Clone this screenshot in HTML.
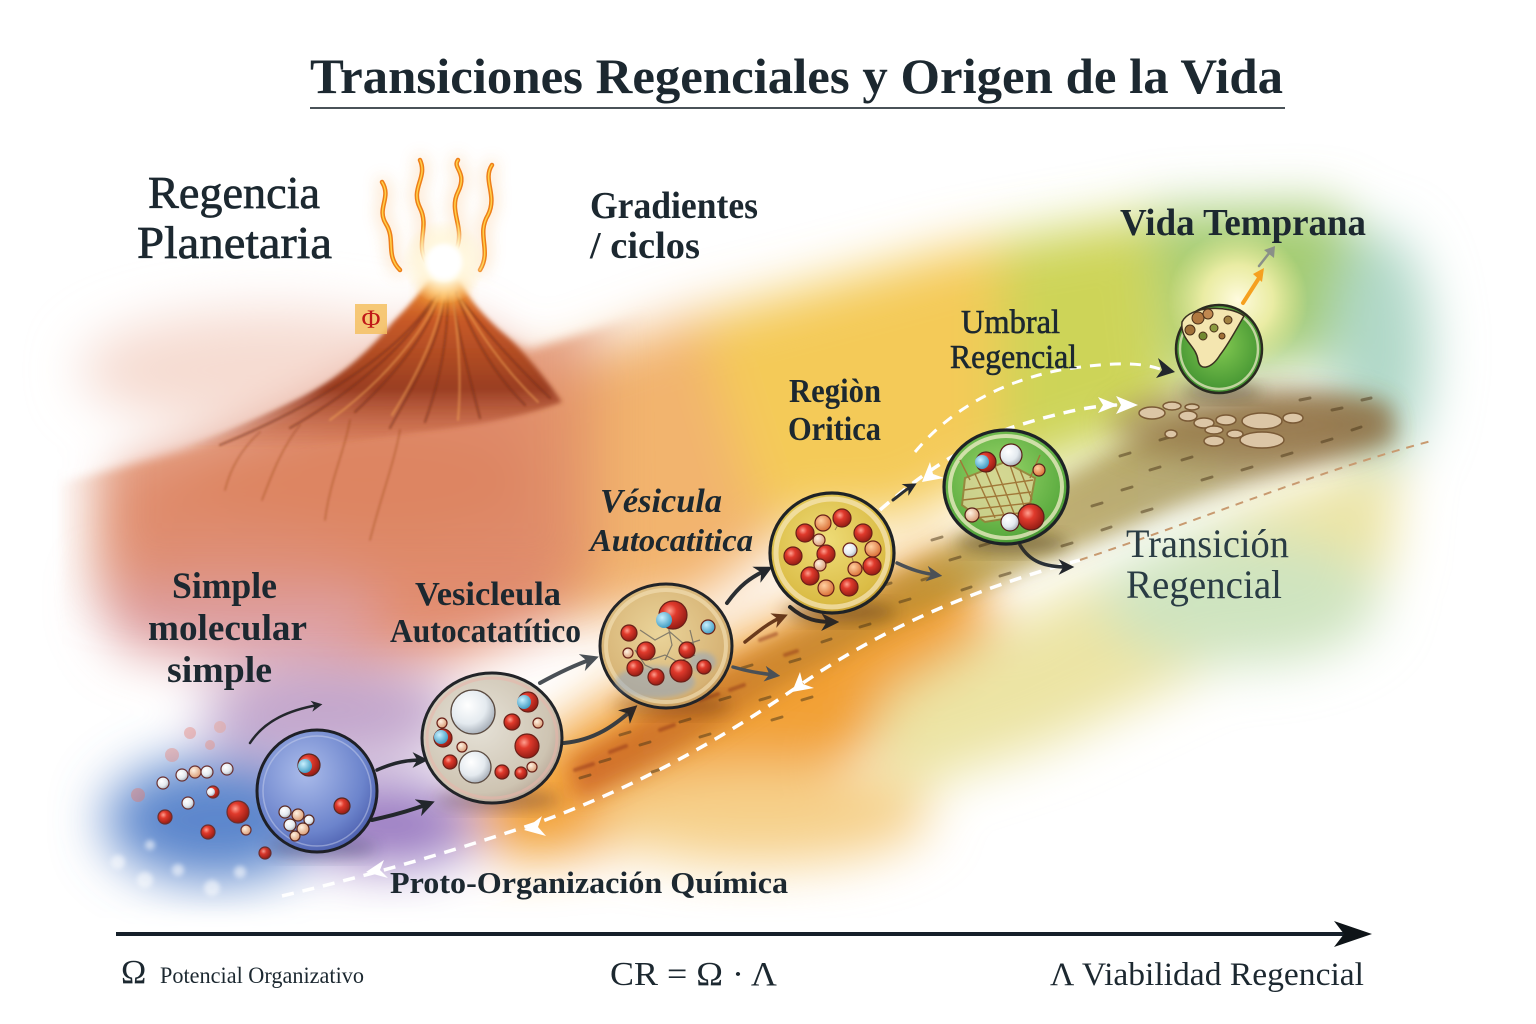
<!DOCTYPE html>
<html><head><meta charset="utf-8">
<style>
html,body{margin:0;padding:0;background:#fff;}
svg{display:block;}
text{font-family:"Liberation Serif",serif;fill:#1c2830;}
</style></head><body>
<svg width="1536" height="1024" viewBox="0 0 1536 1024" xmlns="http://www.w3.org/2000/svg">
<defs>
<filter id="b35" x="-40%" y="-40%" width="180%" height="180%"><feGaussianBlur stdDeviation="26"/></filter>
<filter id="b25" x="-40%" y="-40%" width="180%" height="180%"><feGaussianBlur stdDeviation="28"/></filter>
<filter id="b18" x="-40%" y="-40%" width="180%" height="180%"><feGaussianBlur stdDeviation="16"/></filter>
<filter id="b12" x="-40%" y="-40%" width="180%" height="180%"><feGaussianBlur stdDeviation="11"/></filter>
<filter id="b8" x="-40%" y="-40%" width="180%" height="180%"><feGaussianBlur stdDeviation="8"/></filter>
<filter id="b5" x="-20%" y="-20%" width="140%" height="140%"><feGaussianBlur stdDeviation="5"/></filter>
<filter id="b3" x="-20%" y="-20%" width="140%" height="140%"><feGaussianBlur stdDeviation="2.5"/></filter>
<filter id="b1" x="-20%" y="-20%" width="140%" height="140%"><feGaussianBlur stdDeviation="1"/></filter>
<mask id="mGround" maskUnits="userSpaceOnUse" x="0" y="0" width="1536" height="1024">
<rect x="95" y="200" width="500" height="390" fill="#fff" filter="url(#b25)"/>
</mask>
<radialGradient id="gRed" cx=".38" cy=".35" r=".7"><stop offset="0" stop-color="#ffa090"/><stop offset=".35" stop-color="#e03a2c"/><stop offset="1" stop-color="#8e1a12"/></radialGradient>
<radialGradient id="gWhite" cx=".38" cy=".35" r=".7"><stop offset="0" stop-color="#ffffff"/><stop offset=".6" stop-color="#e4eaef"/><stop offset="1" stop-color="#a2aab4"/></radialGradient>
<radialGradient id="gCyan" cx=".38" cy=".35" r=".7"><stop offset="0" stop-color="#c8f0ff"/><stop offset="1" stop-color="#3a98c0"/></radialGradient>
<radialGradient id="gTan" cx=".38" cy=".35" r=".7"><stop offset="0" stop-color="#fff2e2"/><stop offset="1" stop-color="#d89870"/></radialGradient>
<radialGradient id="gOr" cx=".38" cy=".35" r=".7"><stop offset="0" stop-color="#ffd0a0"/><stop offset="1" stop-color="#d86a30"/></radialGradient>
<radialGradient id="gV1" cx=".4" cy=".35" r=".7"><stop offset="0" stop-color="#aabbea"/><stop offset=".7" stop-color="#6c84cc"/><stop offset="1" stop-color="#4a5cac"/></radialGradient>
<radialGradient id="gV2" cx=".4" cy=".4" r=".65"><stop offset="0" stop-color="#e6e2d8"/><stop offset=".8" stop-color="#cec4b2"/><stop offset="1" stop-color="#b8a696"/></radialGradient>
<radialGradient id="gV3" cx=".45" cy=".4" r=".65"><stop offset="0" stop-color="#ead49a"/><stop offset=".8" stop-color="#d6b274"/><stop offset="1" stop-color="#c09050"/></radialGradient>
<radialGradient id="gV4" cx=".45" cy=".4" r=".65"><stop offset="0" stop-color="#eedc78"/><stop offset=".8" stop-color="#dabb44"/><stop offset="1" stop-color="#b88e28"/></radialGradient>
<radialGradient id="gV5" cx=".45" cy=".4" r=".65"><stop offset="0" stop-color="#9ad66a"/><stop offset=".8" stop-color="#5cac40"/><stop offset="1" stop-color="#3a882c"/></radialGradient>
<radialGradient id="gV6" cx=".5" cy=".45" r=".6"><stop offset="0" stop-color="#84ca52"/><stop offset="1" stop-color="#3c8e2e"/></radialGradient>
<radialGradient id="gGlow" cx=".5" cy=".5" r=".5"><stop offset="0" stop-color="#ffffff"/><stop offset=".45" stop-color="#fff8e0"/><stop offset="1" stop-color="#fff0c0" stop-opacity="0"/></radialGradient>
<radialGradient id="gYGlow" cx=".5" cy=".5" r=".5"><stop offset="0" stop-color="#fffbe0"/><stop offset=".5" stop-color="#fbf4b0" stop-opacity=".8"/><stop offset="1" stop-color="#f8f0a0" stop-opacity="0"/></radialGradient>
<linearGradient id="gBand" x1="560" y1="0" x2="1400" y2="0" gradientUnits="userSpaceOnUse">
<stop offset="0" stop-color="#c4501a"/><stop offset=".25" stop-color="#c07a28"/><stop offset=".5" stop-color="#a88c2c"/><stop offset=".75" stop-color="#948236"/><stop offset="1" stop-color="#8a663a"/></linearGradient>
<linearGradient id="gVol" x1="0" y1="275" x2="0" y2="450" gradientUnits="userSpaceOnUse">
<stop offset="0" stop-color="#f39434"/><stop offset=".25" stop-color="#c85a26"/><stop offset=".65" stop-color="#9a3e22"/><stop offset="1" stop-color="#b8502e" stop-opacity="0"/></linearGradient>
<marker id="ahD" viewBox="0 0 10 10" refX="6" refY="5" markerWidth="4.5" markerHeight="4.5" orient="auto"><path d="M0,0 L10,5 L0,10 L3,5 Z" fill="#23272c"/></marker>
<marker id="ahG" viewBox="0 0 10 10" refX="6" refY="5" markerWidth="4.5" markerHeight="4.5" orient="auto"><path d="M0,0 L10,5 L0,10 L3,5 Z" fill="#4a5056"/></marker>
<marker id="ahB" viewBox="0 0 10 10" refX="6" refY="5" markerWidth="4.5" markerHeight="4.5" orient="auto"><path d="M0,0 L10,5 L0,10 L3,5 Z" fill="#6a3a1c"/></marker>
</defs>

<rect width="1536" height="1024" fill="#ffffff"/>

<!-- painted background -->
<g filter="url(#b35)">
  <ellipse cx="270" cy="370" rx="190" ry="60" fill="#f6dcd2"/>
  <path d="M120,470 L250,440 L400,360 L445,320 L515,360 L600,430 L610,600 L450,660 L300,660 L120,650 Z" fill="#e28e72"/>
  <ellipse cx="360" cy="480" rx="180" ry="55" fill="#d9784e"/>
  <ellipse cx="240" cy="600" rx="140" ry="65" fill="#dea0a4"/>
  <ellipse cx="330" cy="715" rx="130" ry="50" fill="#c2a6cc"/>
  <ellipse cx="215" cy="820" rx="110" ry="62" fill="#5c86cc"/>
  <ellipse cx="390" cy="825" rx="90" ry="42" fill="#9878c0"/>
  <path d="M530,375 L680,320 L800,290 L830,500 L700,600 L570,620 Z" fill="#f2b46e"/>
  <path d="M700,325 L800,290 L950,250 L1050,232 L1050,450 L900,520 L760,520 Z" fill="#f4ca58"/>
  <path d="M1000,240 L1150,215 L1180,420 L1000,480 Z" fill="#cdd458"/>
  <path d="M1150,210 L1330,205 L1390,260 L1380,350 L1180,380 Z" fill="#a4cc72"/>
  <ellipse cx="1380" cy="350" rx="50" ry="120" fill="#b0d8c8"/>
  <path d="M470,790 L620,690 L800,610 L950,545 L1000,620 L880,740 L700,840 L500,860 Z" fill="#f2a034"/>
  <path d="M880,700 L1050,600 L1250,505 L1400,455 L1390,570 L1250,650 L1050,745 L880,800 Z" fill="#ece4a4"/>
  <ellipse cx="1240" cy="600" rx="140" ry="65" fill="#cfe4c0"/>
  <ellipse cx="760" cy="815" rx="170" ry="50" fill="#f6d08a"/>
</g>

<!-- hill ground left (masked soft edges) -->
<g mask="url(#mGround)">
<g filter="url(#b5)" opacity=".75">
<path d="M60,482 C180,455 260,430 320,402 C370,378 410,330 440,290 C470,315 500,340 530,350 C560,340 600,330 650,310 L660,700 L60,700 Z" fill="#de8a68"/>
</g>
</g>

<!-- dark ground band -->
<g filter="url(#b12)" opacity=".68">
  <path d="M570,760 C650,715 720,665 790,632 C870,590 960,535 1050,485 C1120,445 1180,410 1260,398 C1320,392 1360,396 1390,404 L1395,440 C1330,458 1250,480 1170,510 C1090,545 1000,580 900,625 C820,665 760,700 700,740 C650,770 610,790 575,800 Z" fill="url(#gBand)"/>
</g>
<ellipse cx="1250" cy="425" rx="140" ry="36" fill="#8a663a" opacity=".6" filter="url(#b18)"/>

<!-- speckles -->
<g stroke="#4a3618" stroke-width="3" stroke-linecap="round" opacity=".5">
<path d="M600,762 l10,-3 M640,745 l10,-3 M680,722 l10,-3 M720,700 l10,-3 M652,772 l9,-3 M700,737 l10,-3 M760,700 l10,-3 M742,668 l10,-3 M790,662 l10,-3 M822,642 l9,-3 M860,627 l10,-3 M900,602 l10,-3 M882,586 l9,-3 M922,580 l10,-3 M950,560 l10,-3 M980,546 l10,-3 M1012,532 l10,-3 M1042,520 l10,-3 M962,590 l9,-3 M1000,576 l10,-3 M1062,546 l10,-3 M1092,506 l10,-3 M1122,490 l10,-3 M1150,470 l10,-3 M1182,460 l10,-3 M1102,530 l9,-3 M1142,512 l10,-3 M1202,480 l10,-3 M1242,470 l10,-3 M1282,456 l10,-3 M1322,442 l10,-3 M1352,430 l9,-3 M1300,400 l10,-2 M1332,410 l10,-2 M1362,400 l9,-2 M1160,440 l10,-3 M1120,456 l10,-3 M932,540 l10,-3 M850,600 l10,-3 M802,700 l10,-3 M772,720 l10,-3 M620,735 l10,-3 M580,778 l10,-3"/>
</g>
<g stroke="#8a2e14" stroke-width="4" stroke-linecap="round" opacity=".45" filter="url(#b1)">
<path d="M575,770 l18,-6 M610,752 l16,-6 M700,700 l18,-6 M730,690 l14,-5 M660,730 l14,-5 M760,640 l16,-6 M785,655 l12,-4"/>
</g>

<!-- pebbles -->
<g stroke="#7a5a36" stroke-width="1.5" fill="#dcc6a6">
<ellipse cx="1152" cy="413" rx="13" ry="6"/><ellipse cx="1172" cy="406" rx="9" ry="4"/><ellipse cx="1188" cy="416" rx="9" ry="5"/>
<ellipse cx="1204" cy="423" rx="10" ry="5"/><ellipse cx="1226" cy="420" rx="10" ry="5"/><ellipse cx="1214" cy="430" rx="9" ry="4"/>
<ellipse cx="1262" cy="421" rx="20" ry="8"/><ellipse cx="1293" cy="418" rx="10" ry="5"/><ellipse cx="1262" cy="440" rx="22" ry="8"/>
<ellipse cx="1214" cy="441" rx="10" ry="5"/><ellipse cx="1235" cy="434" rx="8" ry="4"/><ellipse cx="1171" cy="434" rx="6" ry="4"/><ellipse cx="1192" cy="407" rx="7" ry="3"/>
</g>

<!-- white fades -->
<rect x="0" y="918" width="1536" height="120" fill="#fff" filter="url(#b8)"/>
<g fill="#fff" opacity=".55" filter="url(#b3)">
<circle cx="118" cy="862" r="7"/><circle cx="145" cy="880" r="8"/><circle cx="178" cy="870" r="6"/><circle cx="212" cy="888" r="8"/><circle cx="240" cy="872" r="6"/><circle cx="150" cy="845" r="5"/>
</g>

<!-- volcano -->
<g filter="url(#b3)">
<path d="M430,280 L458,280 C470,300 485,318 505,335 C525,352 545,378 562,402 C520,418 470,426 420,432 C360,440 300,448 230,456 C200,458 175,458 160,455 C210,440 255,420 300,398 C340,378 370,350 393,322 C410,305 420,292 430,280 Z" fill="url(#gVol)"/>
</g>
<g fill="none" stroke-linecap="round" filter="url(#b1)">
<g stroke="#6e2812" stroke-width="2" opacity=".55">
<path d="M440,292 C430,330 400,370 355,412"/><path d="M448,292 C448,340 440,380 425,422"/><path d="M456,292 C470,330 490,370 525,405"/>
<path d="M436,296 C415,335 365,385 290,428"/><path d="M452,296 C460,340 470,380 480,418"/><path d="M432,300 C405,345 330,400 220,445"/>
<path d="M460,298 C485,330 510,360 550,398"/><path d="M444,300 C438,350 410,390 390,428"/>
</g>
<g stroke="#f5a856" stroke-width="1.8" opacity=".6">
<path d="M444,292 C438,330 420,370 392,415"/><path d="M452,292 C458,335 462,375 458,420"/><path d="M458,295 C478,330 500,365 538,402"/><path d="M438,298 C420,335 385,380 330,420"/>
</g>
<g stroke="#8a3a1c" stroke-width="1.5" opacity=".4">
<path d="M300,425 C280,450 270,480 262,500"/><path d="M350,420 C345,450 330,480 325,520"/><path d="M260,432 C240,450 230,470 225,490"/><path d="M400,430 C395,460 380,500 370,540"/>
</g>
</g>
<ellipse cx="444" cy="290" rx="20" ry="14" fill="#ffb040" filter="url(#b8)"/>
<!-- flames -->
<g fill="none" stroke-linecap="round">
<g stroke="#f5a040" stroke-width="9" opacity=".35" filter="url(#b8)">
<path d="M400,270 C385,255 396,240 386,224 C376,208 392,198 382,182"/>
<path d="M428,265 C414,245 430,228 420,208 C410,188 428,178 420,160"/>
<path d="M456,250 C466,228 448,212 458,192 C468,172 452,168 458,160"/>
<path d="M480,270 C492,250 476,235 488,215 C498,195 482,180 492,165"/>
</g>
<g stroke="#ee7e18" stroke-width="4.5">
<path d="M400,270 C385,255 396,240 386,224 C376,208 392,198 382,182"/>
<path d="M428,265 C414,245 430,228 420,208 C410,188 428,178 420,160"/>
<path d="M456,250 C466,228 448,212 458,192 C468,172 452,168 458,160"/>
<path d="M480,270 C492,250 476,235 488,215 C498,195 482,180 492,165"/>
</g>
<g stroke="#ffd048" stroke-width="1.5">
<path d="M400,270 C385,255 396,240 386,224 C376,208 392,198 382,182"/>
<path d="M428,265 C414,245 430,228 420,208 C410,188 428,178 420,160"/>
<path d="M456,250 C466,228 448,212 458,192 C468,172 452,168 458,160"/>
<path d="M480,270 C492,250 476,235 488,215 C498,195 482,180 492,165"/>
</g>
</g>
<circle cx="444" cy="262" r="42" fill="url(#gGlow)"/>
<circle cx="444" cy="262" r="18" fill="#ffffff" filter="url(#b3)"/>
<rect x="355" y="304" width="32" height="30" fill="#f4c060" opacity=".85"/>
<text x="371" y="328" font-size="26" text-anchor="middle" style="fill:#c01818">Φ</text>

<!-- dashed paths -->
<g fill="none" stroke-linecap="butt">
<path d="M282,896 C400,868 470,845 540,822 C640,785 720,740 800,685 C880,630 970,590 1080,560" stroke="#fff" stroke-width="3.5" stroke-dasharray="12 9"/>
<path d="M1080,560 C1200,520 1320,470 1435,440" stroke="#c89a70" stroke-width="2" stroke-dasharray="8 7"/>
<path d="M880,510 C920,475 960,448 1010,428 C1060,412 1095,405 1120,405" stroke="#fff" stroke-width="3.5" stroke-dasharray="12 9"/>
<path d="M915,452 C950,410 1000,382 1060,370 C1110,362 1140,362 1160,369" stroke="#fff" stroke-width="3" stroke-dasharray="11 9"/>
</g>
<g fill="#fff">
<path d="M366,872 L384,860 L380,870 L388,878 Z"/>
<path d="M524,830 L542,816 L538,827 L546,836 Z"/>
<path d="M792,692 L800,672 L803,684 L814,688 Z"/>
<path d="M922,482 L930,462 L933,474 L944,478 Z"/>
<path d="M1138,405 L1116,396 L1121,405 L1116,414 Z"/>
<path d="M1118,405 L1098,397 L1103,405 L1098,413 Z"/>
</g>
<path d="M1175,372 L1158,358 L1162,370 L1156,378 Z" fill="#23272c"/>

<!-- arrows -->
<g fill="none" stroke-linecap="round">
<path d="M250,743 C265,720 290,710 318,705" stroke="#23272c" stroke-width="2.5" marker-end="url(#ahD)"/>
<path d="M377,770 C395,762 408,760 422,760" stroke="#23272c" stroke-width="3.5" marker-end="url(#ahD)"/>
<path d="M372,820 C395,815 412,810 428,804" stroke="#23272c" stroke-width="4" marker-end="url(#ahD)"/>
<path d="M540,683 C560,672 575,665 592,659" stroke="#4a5056" stroke-width="4" marker-end="url(#ahG)"/>
<path d="M564,743 C595,740 615,725 632,710" stroke="#3a3e42" stroke-width="4" marker-end="url(#ahD)"/>
<path d="M727,603 C740,585 750,578 766,570" stroke="#2a2e32" stroke-width="4" marker-end="url(#ahD)"/>
<path d="M733,667 C750,672 760,673 774,675" stroke="#4a5056" stroke-width="3.5" marker-end="url(#ahG)"/>
<path d="M745,642 C760,630 770,622 782,617" stroke="#6a3a1c" stroke-width="3.5" marker-end="url(#ahB)"/>
<path d="M893,500 C900,495 905,490 912,486" stroke="#2a2e32" stroke-width="3" marker-end="url(#ahD)"/>
<path d="M897,563 C912,570 922,573 936,575" stroke="#4a5056" stroke-width="3.5" marker-end="url(#ahG)"/>
<path d="M790,607 C805,620 818,622 832,622" stroke="#23272c" stroke-width="4" marker-end="url(#ahD)"/>
<path d="M1020,545 C1030,562 1045,567 1068,567" stroke="#2a3036" stroke-width="3.5" marker-end="url(#ahD)"/>
</g>

<!-- free molecules -->
<g opacity=".45"><circle cx="138" cy="795" r="7" fill="#e07a70"/><circle cx="172" cy="755" r="7" fill="#e88a80"/><circle cx="190" cy="733" r="6" fill="#e88a80"/><circle cx="220" cy="727" r="6" fill="#e8a090"/><circle cx="210" cy="745" r="5" fill="#e89080"/></g>
<g stroke="#6a3030" stroke-width="1.2">
<circle cx="163" cy="783" r="6" fill="url(#gWhite)"/><circle cx="182" cy="775" r="6" fill="url(#gWhite)"/><circle cx="195" cy="772" r="6" fill="url(#gTan)"/>
<circle cx="207" cy="772" r="6" fill="url(#gWhite)"/><circle cx="227" cy="769" r="6" fill="url(#gWhite)"/><circle cx="188" cy="803" r="6" fill="url(#gWhite)"/>
<circle cx="213" cy="792" r="6" fill="url(#gRed)"/><circle cx="211" cy="792" r="4" fill="url(#gWhite)" stroke="none"/>
<circle cx="238" cy="812" r="11" fill="url(#gRed)"/><circle cx="165" cy="817" r="7" fill="url(#gRed)"/><circle cx="208" cy="832" r="7" fill="url(#gRed)"/>
<circle cx="265" cy="853" r="6" fill="url(#gRed)"/><circle cx="246" cy="830" r="5" fill="url(#gTan)"/>
</g>

<!-- V1 -->
<ellipse cx="322" cy="848" rx="55" ry="10" fill="#1a2050" opacity=".35" filter="url(#b8)"/>
<ellipse cx="317" cy="791" rx="60" ry="61" fill="url(#gV1)" stroke="#1e2026" stroke-width="3"/>
<ellipse cx="317" cy="791" rx="54" ry="55" fill="none" stroke="#d0d8f0" stroke-width="1.5" opacity=".45"/>
<g stroke="#5a2820" stroke-width="1.2">
<circle cx="309" cy="765" r="11" fill="url(#gRed)"/><circle cx="305" cy="766" r="7" fill="url(#gCyan)" stroke="none"/>
<circle cx="342" cy="806" r="8" fill="url(#gRed)"/>
<circle cx="285" cy="812" r="6" fill="url(#gWhite)"/><circle cx="298" cy="815" r="6" fill="url(#gTan)"/><circle cx="309" cy="820" r="5" fill="url(#gWhite)"/>
<circle cx="290" cy="825" r="6" fill="url(#gWhite)"/><circle cx="303" cy="829" r="6" fill="url(#gTan)"/><circle cx="295" cy="836" r="5" fill="url(#gTan)"/>
</g>

<!-- V2 -->
<ellipse cx="498" cy="800" rx="62" ry="10" fill="#3a2040" opacity=".35" filter="url(#b8)"/>
<ellipse cx="492" cy="738" rx="70" ry="65" fill="url(#gV2)" stroke="#222428" stroke-width="3"/>
<ellipse cx="492" cy="738" rx="65" ry="60" fill="none" stroke="#eab4aa" stroke-width="3" opacity=".55"/>
<g stroke="#5a4a40" stroke-width="1.3">
<circle cx="473" cy="712" r="22" fill="url(#gWhite)"/><circle cx="475" cy="767" r="16" fill="url(#gWhite)"/>
</g>
<g stroke="#6a2018" stroke-width="1.2">
<circle cx="512" cy="722" r="8" fill="url(#gRed)"/><circle cx="527" cy="746" r="12" fill="url(#gRed)"/><circle cx="450" cy="762" r="7" fill="url(#gRed)"/>
<circle cx="502" cy="772" r="7" fill="url(#gRed)"/><circle cx="521" cy="773" r="6" fill="url(#gRed)"/>
<circle cx="528" cy="702" r="10" fill="url(#gRed)"/><circle cx="524" cy="702" r="7" fill="url(#gCyan)" stroke="none"/>
<circle cx="443" cy="738" r="9" fill="url(#gRed)"/><circle cx="441" cy="737" r="7" fill="url(#gCyan)" stroke="none"/>
<circle cx="442" cy="723" r="5" fill="url(#gTan)"/><circle cx="462" cy="747" r="5" fill="url(#gTan)"/><circle cx="538" cy="723" r="5" fill="url(#gTan)"/><circle cx="532" cy="767" r="5" fill="url(#gTan)"/>
</g>

<!-- V3 -->
<ellipse cx="672" cy="705" rx="58" ry="10" fill="#5a2a10" opacity=".4" filter="url(#b8)"/>
<ellipse cx="666" cy="646" rx="66" ry="62" fill="url(#gV3)" stroke="#222428" stroke-width="3"/>
<ellipse cx="666" cy="646" rx="60" ry="56" fill="none" stroke="#f2deb4" stroke-width="4" opacity=".65"/>
<ellipse cx="655" cy="682" rx="40" ry="16" fill="#8aa4c8" opacity=".5" filter="url(#b3)"/>
<ellipse cx="702" cy="662" rx="14" ry="10" fill="#8aa4c8" opacity=".5" filter="url(#b3)"/>
<g fill="none" stroke="#5a5a5a" stroke-width="1.2" opacity=".7">
<path d="M640,630 L655,640 L670,632 L685,645 L700,640 M650,660 L665,655 L678,662 L695,655 M635,650 L645,665 L660,672 M668,625 L672,645 L665,660 M690,630 L695,650"/>
</g>
<g stroke="#6a2018" stroke-width="1.2">
<circle cx="673" cy="615" r="14" fill="url(#gRed)"/><circle cx="664" cy="620" r="8" fill="url(#gCyan)" stroke="none"/>
<circle cx="629" cy="633" r="8" fill="url(#gRed)"/><circle cx="646" cy="651" r="9" fill="url(#gRed)"/><circle cx="687" cy="650" r="8" fill="url(#gRed)"/>
<circle cx="635" cy="668" r="8" fill="url(#gRed)"/><circle cx="656" cy="677" r="8" fill="url(#gRed)"/><circle cx="681" cy="671" r="11" fill="url(#gRed)"/>
<circle cx="704" cy="667" r="7" fill="url(#gRed)"/><circle cx="708" cy="627" r="7" fill="url(#gCyan)"/><circle cx="628" cy="653" r="5" fill="url(#gTan)"/>
</g>

<!-- V4 -->
<ellipse cx="840" cy="612" rx="56" ry="10" fill="#4a2a08" opacity=".45" filter="url(#b8)"/>
<ellipse cx="832" cy="553" rx="62" ry="60" fill="url(#gV4)" stroke="#1e2226" stroke-width="3.2"/>
<ellipse cx="832" cy="553" rx="56" ry="54" fill="none" stroke="#f6e4b4" stroke-width="5" opacity=".75"/>
<g fill="none" stroke="#6a5030" stroke-width="1" opacity=".6"><path d="M819,540 L826,554 L820,565 M850,550 L855,568 M835,530 L842,518"/></g>
<g stroke="#6a2018" stroke-width="1.2">
<circle cx="842" cy="518" r="9" fill="url(#gRed)"/><circle cx="823" cy="523" r="8" fill="url(#gOr)"/><circle cx="805" cy="533" r="9" fill="url(#gRed)"/>
<circle cx="863" cy="533" r="9" fill="url(#gRed)"/><circle cx="793" cy="556" r="9" fill="url(#gRed)"/><circle cx="826" cy="554" r="9" fill="url(#gRed)"/>
<circle cx="873" cy="549" r="8" fill="url(#gOr)"/><circle cx="872" cy="566" r="9" fill="url(#gRed)"/><circle cx="810" cy="576" r="9" fill="url(#gRed)"/>
<circle cx="849" cy="587" r="9" fill="url(#gRed)"/><circle cx="826" cy="588" r="8" fill="url(#gOr)"/><circle cx="819" cy="540" r="6" fill="url(#gTan)"/>
<circle cx="850" cy="550" r="7" fill="url(#gWhite)"/><circle cx="855" cy="569" r="7" fill="url(#gOr)"/><circle cx="820" cy="565" r="6" fill="url(#gTan)"/>
</g>

<!-- V5 -->
<ellipse cx="1012" cy="543" rx="56" ry="10" fill="#3a2a08" opacity=".45" filter="url(#b8)"/>
<ellipse cx="1006" cy="487" rx="62" ry="57" fill="url(#gV5)" stroke="#1e2226" stroke-width="3.2"/>
<ellipse cx="1006" cy="487" rx="56" ry="51" fill="none" stroke="#f2eec8" stroke-width="4" opacity=".75"/>
<path d="M965,478 L1005,462 L1035,478 L1028,515 L985,522 L962,505 Z" fill="#e8d8a0" opacity=".75" stroke="#a07838" stroke-width="2"/>
<g stroke="#a07838" stroke-width="1.4" fill="none">
<path d="M975,474 L995,518 M985,470 L1006,520 M995,466 L1016,518 M1010,465 L1026,512 M1020,470 L1032,500"/>
<path d="M964,490 L1033,480 M963,500 L1031,492 M968,510 L1030,503 M975,518 L1028,512"/>
<path d="M1030,478 L1040,455 M970,480 L960,460"/>
</g>
<g stroke="#5a2018" stroke-width="1.2">
<circle cx="1031" cy="517" r="13" fill="url(#gRed)"/><circle cx="1010" cy="522" r="9" fill="url(#gWhite)"/>
<circle cx="986" cy="462" r="10" fill="url(#gRed)"/><circle cx="982" cy="462" r="7" fill="url(#gCyan)" stroke="none"/>
<circle cx="1011" cy="455" r="11" fill="url(#gWhite)"/><circle cx="1039" cy="470" r="6" fill="url(#gOr)"/>
<circle cx="972" cy="515" r="7" fill="url(#gTan)"/>
</g>

<!-- V6 -->
<circle cx="1238" cy="300" r="70" fill="url(#gYGlow)"/>
<ellipse cx="1222" cy="392" rx="40" ry="8" fill="#3a2a08" opacity=".45" filter="url(#b8)"/>
<ellipse cx="1219" cy="349" rx="43" ry="44" fill="url(#gV6)" stroke="#2a2a20" stroke-width="2.5"/>
<ellipse cx="1219" cy="349" rx="39" ry="40" fill="none" stroke="#f4eccc" stroke-width="2.5" opacity=".7"/>
<path d="M1182,322 C1190,305 1230,305 1244,316 C1236,330 1228,345 1220,355 C1212,368 1200,372 1198,360 C1196,345 1180,340 1182,322 Z" fill="#f4e6b0" stroke="#3a3020" stroke-width="1.5"/>
<g stroke="#4a3018" stroke-width="1">
<circle cx="1198" cy="318" r="6" fill="#b07840"/><circle cx="1208" cy="314" r="5" fill="#c08850"/><circle cx="1190" cy="330" r="5" fill="#a07038"/>
<circle cx="1214" cy="328" r="4" fill="#8a9a40"/><circle cx="1228" cy="320" r="4" fill="#a08040"/><circle cx="1203" cy="336" r="4" fill="#708830"/><circle cx="1222" cy="336" r="3" fill="#a07038"/>
</g>
<path d="M1243,303 L1259,278" stroke="#f5a020" stroke-width="4" stroke-linecap="round"/>
<path d="M1253,274 L1264,268 L1262,282 Z" fill="#f5a020"/>
<path d="M1259,266 L1270,252" stroke="#8a9088" stroke-width="2.5" stroke-linecap="round"/>
<path d="M1264,250 L1275,246 L1274,258 Z" fill="#8a9088"/>

<!-- Title -->
<text x="310" y="93" font-size="50" font-weight="bold" textLength="973" lengthAdjust="spacingAndGlyphs">Transiciones Regenciales y Origen de la Vida</text>
<line x1="310" y1="108" x2="1285" y2="108" stroke="#4a5258" stroke-width="2"/>

<!-- Labels -->
<g stroke="#1c2830" stroke-width="0.7">
<text x="148" y="208" font-size="46" textLength="172" lengthAdjust="spacingAndGlyphs">Regencia</text>
<text x="137" y="258" font-size="46" textLength="195" lengthAdjust="spacingAndGlyphs">Planetaria</text>
</g>
<g font-weight="bold">
<text x="590" y="218" font-size="38" textLength="168" lengthAdjust="spacingAndGlyphs">Gradientes</text>
<text x="590" y="258" font-size="38" textLength="110" lengthAdjust="spacingAndGlyphs">/ ciclos</text>
<text x="1120" y="235" font-size="38" textLength="246" lengthAdjust="spacingAndGlyphs">Vida Temprana</text>
<text x="789" y="402" font-size="34" textLength="92" lengthAdjust="spacingAndGlyphs">Regiòn</text>
<text x="788" y="440" font-size="34" textLength="93" lengthAdjust="spacingAndGlyphs">Oritica</text>
<text x="600" y="512" font-size="34" font-style="italic" textLength="122" lengthAdjust="spacingAndGlyphs">Vésicula</text>
<text x="590" y="551" font-size="32" font-style="italic" textLength="163" lengthAdjust="spacingAndGlyphs">Autocatitica</text>
<text x="172" y="598" font-size="37" textLength="105" lengthAdjust="spacingAndGlyphs">Simple</text>
<text x="148" y="640" font-size="37" textLength="159" lengthAdjust="spacingAndGlyphs">molecular</text>
<text x="167" y="682" font-size="37" textLength="105" lengthAdjust="spacingAndGlyphs">simple</text>
<text x="415" y="605" font-size="34" textLength="146" lengthAdjust="spacingAndGlyphs">Vesicleula</text>
<text x="390" y="642" font-size="34" textLength="191" lengthAdjust="spacingAndGlyphs">Autocatatítico</text>
<text x="390" y="893" font-size="31" textLength="398" lengthAdjust="spacingAndGlyphs">Proto-Organización Química</text>
</g>
<g stroke="#1c2830" stroke-width="0.6">
<text x="961" y="333" font-size="34" textLength="99" lengthAdjust="spacingAndGlyphs">Umbral</text>
<text x="950" y="368" font-size="34" textLength="127" lengthAdjust="spacingAndGlyphs">Regencial</text>
</g>
<text x="1126" y="557" font-size="40" textLength="163" lengthAdjust="spacingAndGlyphs" style="fill:#2a3c44">Transición</text>
<text x="1126" y="598" font-size="40" textLength="156" lengthAdjust="spacingAndGlyphs" style="fill:#2a3c44">Regencial</text>

<!-- Axis -->
<line x1="116" y1="934" x2="1350" y2="934" stroke="#16202a" stroke-width="4"/>
<path d="M1334,921 L1372,934 L1334,947 L1344,934 Z" fill="#0e1418"/>
<text x="121" y="983" font-size="34">Ω</text>
<text x="160" y="983" font-size="23" textLength="204" lengthAdjust="spacingAndGlyphs">Potencial Organizativo</text>
<text x="610" y="985" font-size="34" textLength="167" lengthAdjust="spacingAndGlyphs">CR = Ω · Λ</text>
<text x="1050" y="985" font-size="33" textLength="314" lengthAdjust="spacingAndGlyphs">Λ Viabilidad Regencial</text>
</svg>
</body></html>
